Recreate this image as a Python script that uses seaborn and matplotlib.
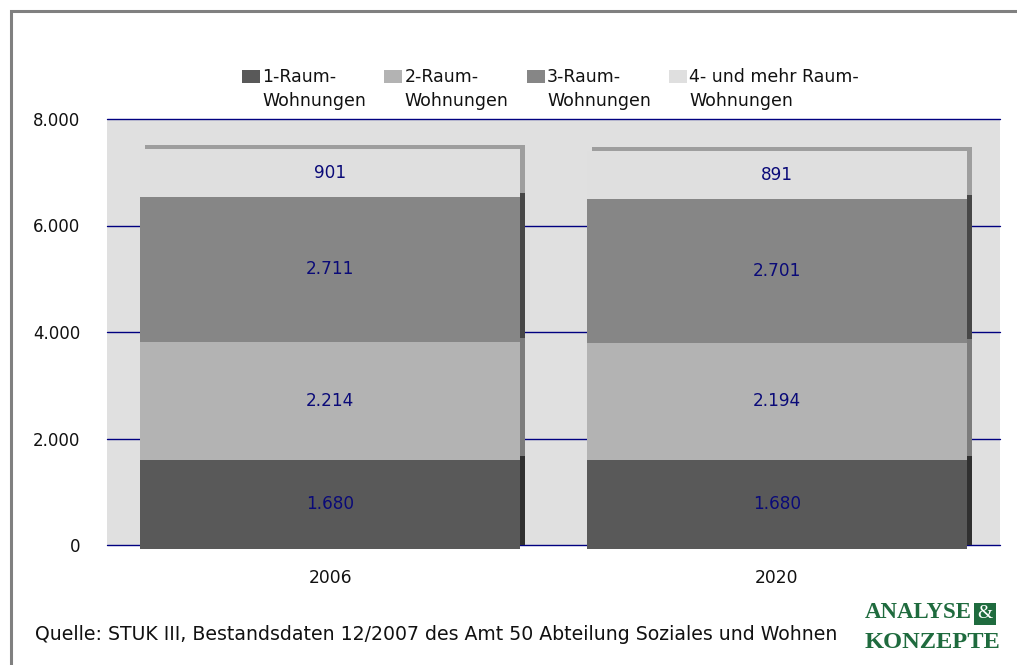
import numpy as np
import pandas as pd
import seaborn as sns
import matplotlib
matplotlib.use("Agg")
import matplotlib.pyplot as plt
from matplotlib.patches import Rectangle, Patch
from matplotlib.transforms import offset_copy
from matplotlib.legend_handler import HandlerBase
from matplotlib.ticker import FuncFormatter

# --- data -------------------------------------------------------------
years = ["2006", "2020"]
series_names = ["1-Raum-\nWohnungen", "2-Raum-\nWohnungen",
                "3-Raum-\nWohnungen", "4- und mehr Raum-\nWohnungen"]
raum1 = [1680, 1680]
raum2 = [2214, 2194]
raum3 = [2711, 2701]
raum4 = [901, 891]
yticks = [0, 2000, 4000, 6000, 8000]

front_colors = ["#595959", "#b3b3b3", "#868686", "#dfdfdf"]
side_colors = ["#303030", "#7c7c7c", "#474747", "#9e9e9e"]
label_color = "#0a0a78"

sns.set_theme(style="white")
plt.rcParams["font.family"] = ["DejaVu Sans"]

W, H = 1017, 665
fig = plt.figure(figsize=(W / 100, H / 100), dpi=100)
ax = fig.add_axes([107 / W, 1 - 545 / H, (1000 - 107) / W, (545 - 119) / H])
ax.set_facecolor("#e0e0e0")

layers = [raum1, raum2, raum3, raum4]
cum = np.cumsum(np.array(layers), axis=0)

DEPTH = 4  # pixels of pseudo-3D depth


def draw_layer(values, color, dx, dy):
    n_before = len(ax.patches)
    sns.barplot(x=years, y=values, color=color, saturation=1, width=0.85,
                errorbar=None, edgecolor="none", linewidth=0, ax=ax)
    tr = offset_copy(ax.transData, fig=fig, x=dx, y=dy, units="dots")
    for p in ax.patches[n_before:]:
        p.set_transform(tr)
        p.set_clip_on(False)
        p.set_zorder(2)


# back (side / top faces), top-most stack first so lower segments overlay
for i in range(3, -1, -1):
    draw_layer(cum[i], side_colors[i], DEPTH + 1, 0)
# front faces
for i in range(3, -1, -1):
    draw_layer(cum[i], front_colors[i], 0, -DEPTH)

# value labels centred in each front segment
lab_tr = offset_copy(ax.transData, fig=fig, x=0, y=-DEPTH, units="dots")
bottoms = np.vstack([np.zeros(len(years)), cum[:-1]])
for i, vals in enumerate(layers):
    for j, v in enumerate(vals):
        ax.text(j, bottoms[i][j] + v / 2, f"{v:,}".replace(",", "."),
                transform=lab_tr, ha="center", va="center",
                fontsize=12.2, color=label_color, zorder=5)

ax.set_xlim(-0.5, 1.5)
ax.set_ylim(0, 8000)
ax.set_yticks(yticks)
ax.yaxis.set_major_formatter(FuncFormatter(lambda v, _: f"{v:,.0f}".replace(",", ".")))
ax.set_xticks(range(len(years)))
ax.set_xticklabels(years, fontsize=12.3, color="#111111")
ax.grid(axis="y", color="#000080", linewidth=1)
ax.grid(axis="x", visible=False)
ax.set_axisbelow(True)
for gl in ax.get_ygridlines():
    gl.set_clip_on(False)
for s in ax.spines.values():
    s.set_visible(False)
ax.tick_params(axis="y", length=0, pad=19, labelsize=12, labelcolor="#111111")
ax.tick_params(axis="x", length=0, pad=17)
ax.set_xlabel("")
ax.set_ylabel("")


class TopSquare(HandlerBase):
    """Legend key drawn level with the first line of a two-line label."""
    def create_artists(self, legend, orig_handle, xdescent, ydescent,
                       width, height, fontsize, trans):
        w, h = fontsize * 1.05, fontsize * 0.72
        r = Rectangle((-xdescent + width - w, -ydescent + height * 0.5 + fontsize * 0.4),
                      w, h, facecolor=orig_handle.get_facecolor(),
                      edgecolor="none", transform=trans)
        return [r]


handles = [Patch(facecolor=c) for c in front_colors]
leg = fig.legend(handles, series_names, loc="upper center", ncol=4,
                 bbox_to_anchor=(550 / W, 1 - 52 / H), frameon=False,
                 fontsize=12.5, handler_map={Patch: TopSquare()},
                 handlelength=1.1, handletextpad=0.12, columnspacing=1.0)
for t in leg.get_texts():
    t.set_color("#111111")
    t.set_linespacing(1.45)

# source note and logo
fig.text(35 / W, 1 - 634 / H,
         "Quelle: STUK III, Bestandsdaten 12/2007 des Amt 50 Abteilung Soziales und Wohnen",
         fontsize=13.6, family="DejaVu Sans", color="#111111", va="center")
green = "#1f6b3e"
fig.text(865 / W, 1 - 613 / H, "ANALYSE", fontsize=16.5, family="Liberation Serif",
         weight="bold", color=green, va="center")
fig.text(985 / W, 1 - 614 / H, "&", fontsize=14, family="Liberation Serif",
         color="white", va="center", ha="center",
         bbox=dict(boxstyle="square,pad=0.15", facecolor=green, edgecolor="none"))
fig.text(865 / W, 1 - 643 / H, "KONZEPTE", fontsize=17.6, family="Liberation Serif",
         weight="bold", color=green, va="center")

# outer frame
fig.patches.append(Rectangle((10.5 / W, -0.5), 1.5, (1 - 10.5 / H) + 0.5, fill=False,
                             edgecolor="#808080", linewidth=2.2,
                             transform=fig.transFigure))

fig.savefig("out.png", dpi=100, facecolor="white")
